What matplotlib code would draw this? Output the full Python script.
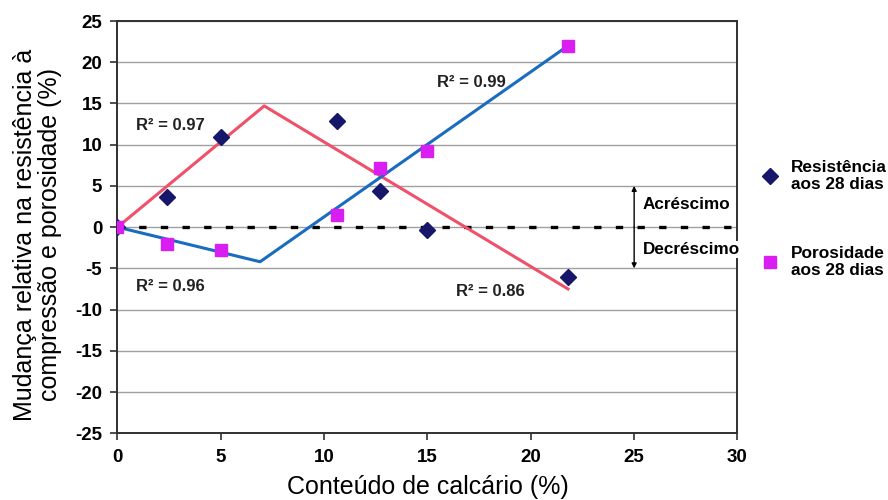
import numpy as np
import matplotlib
matplotlib.use("Agg")
import matplotlib.pyplot as plt

plt.rcParams['font.family'] = ['Liberation Sans', 'DejaVu Sans']
plt.rcParams['axes.unicode_minus'] = False

# measured points
calcario = [0, 2.4, 5.0, 10.6, 12.7, 15.0, 21.8]
resistencia = [0, 3.6, 10.9, 12.9, 4.4, -0.4, -6.1]
porosidade = [0, -2.0, -2.8, 1.5, 7.2, 9.2, 22.0]

# bilinear trend lines (vertices)
tend_res_x = [0, 7.1, 21.8]
tend_res_y = [0, 14.7, -7.5]
tend_por_x = [0, 6.9, 21.8]
tend_por_y = [0, -4.2, 22.0]

r2_labels = ['R² = 0.97', 'R² = 0.96', 'R² = 0.99', 'R² = 0.86']
r2_x = [0.9, 0.9, 15.45, 16.4]
r2_y = [12.3, -7.2, 17.5, -7.8]

fig = plt.figure(figsize=(8.88, 5), dpi=100)
ax = fig.add_axes([0.1323, 0.1335, 0.6982, 0.8245])

ax.set_xlim(0, 30)
ax.set_ylim(-25, 25)
ax.set_xticks(np.arange(0, 31, 5))
ax.set_yticks(np.arange(-25, 26, 5))
ax.yaxis.grid(True, color='#a0a0a0', linewidth=1.0)
ax.set_axisbelow(True)

for s in ax.spines.values():
    s.set_color('#303030')
    s.set_linewidth(1.4)

ax.tick_params(axis='both', direction='out', length=5, width=1.2, color='#303030',
               labelsize=13.5, pad=6)
for lab in ax.get_xticklabels() + ax.get_yticklabels():
    lab.set_fontweight('bold')

# zero reference
ax.axhline(0, color='black', linewidth=2.4, dashes=(2.2, 4.3), zorder=2)

ax.plot(tend_res_x, tend_res_y, color='#f0506a', linewidth=2.2, zorder=3)
ax.plot(tend_por_x, tend_por_y, color='#1a6cc0', linewidth=2.2, zorder=3)

ax.plot(calcario, resistencia, linestyle='none', marker='D', markersize=8.5,
        color='#16166a', label='Resistência\naos 28 dias', zorder=4)
ax.plot(calcario, porosidade, linestyle='none', marker='s', markersize=8.5,
        color='#d81ef0', label='Porosidade\naos 28 dias', zorder=5)

for t, x, y in zip(r2_labels, r2_x, r2_y):
    ax.text(x, y, t, fontsize=12, fontweight='bold', color='#222222',
            ha='left', va='center')

# increase / decrease arrows
ax.annotate('', xy=(25, 5), xytext=(25, 0),
            arrowprops=dict(arrowstyle='-|>', color='black', lw=1.0,
                            mutation_scale=7, shrinkA=0, shrinkB=0))
ax.annotate('', xy=(25, -5), xytext=(25, 0),
            arrowprops=dict(arrowstyle='-|>', color='black', lw=1.0,
                            mutation_scale=7, shrinkA=0, shrinkB=0))
ax.text(25.4, 2.8, 'Acréscimo', fontsize=12.3, fontweight='bold',
        ha='left', va='center', zorder=6)
ax.text(25.4, -2.7, 'Decréscimo', fontsize=12.3, fontweight='bold',
        ha='left', va='center', zorder=6, clip_on=False,
        bbox=dict(facecolor='white', edgecolor='none', pad=1.0))

ax.set_xlabel('Conteúdo de calcário (%)', fontsize=18, labelpad=7)
ax.set_ylabel('Mudança relativa na resistência à\ncompressão e porosidade (%)',
              fontsize=18, linespacing=1.05)
ax.yaxis.set_label_coords(-0.09, 0.482)

leg = ax.legend(loc='upper left', bbox_to_anchor=(1.03, 0.68), frameon=False,
                fontsize=12.4, labelspacing=3.1, handletextpad=0.8,
                handlelength=0.8, borderaxespad=0)
for t in leg.get_texts():
    t.set_fontweight('bold')

fig.savefig('out.png', dpi=100)
